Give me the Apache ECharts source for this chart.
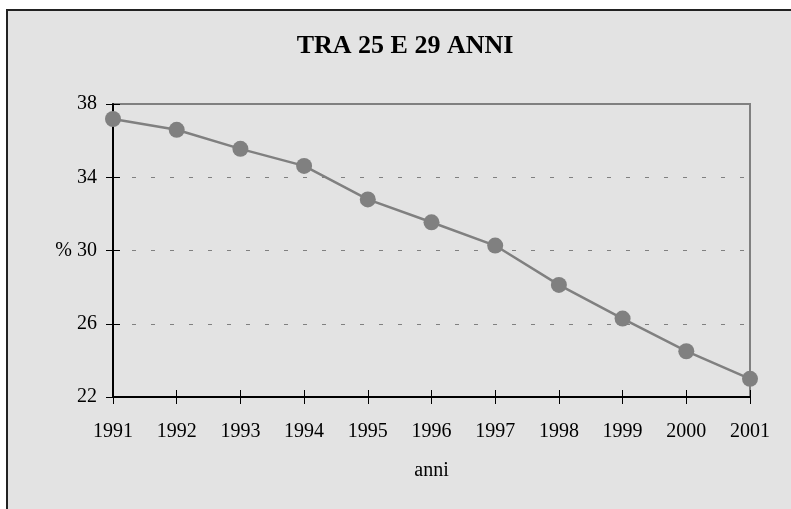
<!DOCTYPE html>
<html>
<head>
<meta charset="utf-8">
<script src="https://cdn.jsdelivr.net/npm/echarts@6/dist/echarts.min.js"></script>
<style>
html,body{margin:0;padding:0;background:#fff;}
#c{width:791px;height:509px;}
</style>
</head>
<body>
<div id="c"></div>
<script>
const titleText = 'TRA 25 E 29 ANNI';
const years = ['1991','1992','1993','1994','1995','1996','1997','1998','1999','2000','2001'];
const values = [37.18, 36.59, 35.55, 34.62, 32.79, 31.54, 30.27, 28.12, 26.28, 24.5, 22.99];
const yTicks = [22, 26, 30, 34, 38];
const yName = '%';
const xName = 'anni';

const FONT = '"Liberation Serif", "Times New Roman", serif';
const chart = echarts.init(document.getElementById('c'));
chart.setOption({
  animation: false,
  backgroundColor: '#ffffff',
  graphic: [{
    type: 'rect', z: -10, silent: true,
    shape: {x: 7, y: 10, width: 800, height: 520},
    style: {fill: '#e3e3e3', stroke: '#222222', lineWidth: 2}
  }],
  title: {
    text: titleText, left: 400, top: 28, textAlign: 'center',
    textStyle: {fontFamily: FONT, fontSize: 26, fontWeight: 'bold', color: '#000'}
  },
  grid: {left: 113, right: 41, top: 104, bottom: 112, show: true,
         borderColor: '#808080', borderWidth: 2, backgroundColor: 'transparent'},
  xAxis: [{
    type: 'category', data: years, boundaryGap: false,
    name: xName, nameLocation: 'middle', nameGap: 64,
    nameTextStyle: {fontFamily: FONT, fontSize: 20, color: '#000'},
    axisLine: {lineStyle: {color: '#000', width: 2}},
    axisTick: {show: true, inside: false, length: 7, alignWithLabel: true, lineStyle: {color: '#000', width: 1}},
    axisLabel: {fontFamily: FONT, fontSize: 20, color: '#000', margin: 25},
    splitLine: {show: false}
  }, {
    type: 'category', data: years, boundaryGap: false, position: 'bottom',
    axisLine: {show: false},
    axisTick: {show: true, inside: true, length: 7, lineStyle: {color: '#000', width: 1}},
    axisLabel: {show: false}, splitLine: {show: false}
  }],
  yAxis: [{
    type: 'value', min: yTicks[0], max: yTicks[yTicks.length - 1], interval: yTicks[1] - yTicks[0],
    axisLine: {show: true, lineStyle: {color: '#000', width: 2}},
    axisTick: {show: true, inside: false, length: 7, lineStyle: {color: '#000', width: 1}},
    axisLabel: {fontFamily: FONT, fontSize: 20, color: '#000', margin: 16,
      formatter: v => v === 30 ? yName + ' ' + v : String(v)},
    splitLine: {show: true, lineStyle: {color: '#808080', width: 1, type: [4, 15]}}
  }, {
    type: 'value', min: yTicks[0], max: yTicks[yTicks.length - 1], interval: yTicks[1] - yTicks[0],
    position: 'left',
    axisLine: {show: false},
    axisTick: {show: true, inside: true, length: 7, lineStyle: {color: '#000', width: 1}},
    axisLabel: {show: false}, splitLine: {show: false}
  }],
  series: [{
    type: 'line', data: values, xAxisIndex: 0, yAxisIndex: 0,
    symbol: 'circle', symbolSize: 16,
    lineStyle: {color: '#808080', width: 2.5},
    itemStyle: {color: '#808080'},
    z: 5
  }]
});
</script>
</body>
</html>
